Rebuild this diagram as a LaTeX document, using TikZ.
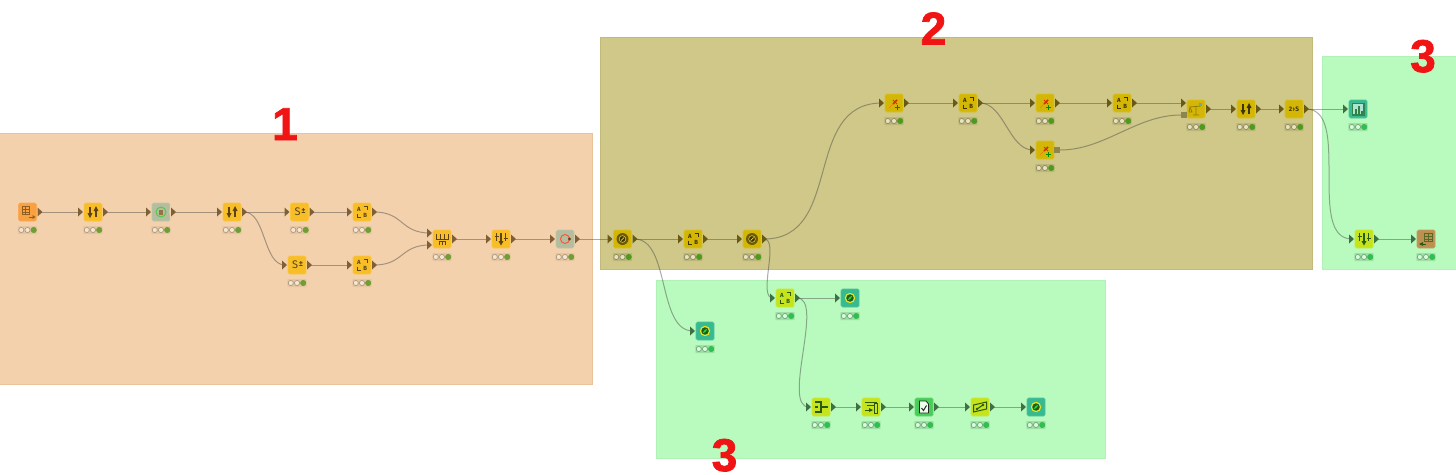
\documentclass[tikz,border=0pt]{standalone}
\usepackage{fontspec}
\setmainfont{Fira Sans}
\newfontfamily\numfont[BoldFeatures={FakeBold=1.6}]{Liberation Sans}
\usetikzlibrary{calc}
\definecolor{regionA}{HTML}{F3D1AC}\definecolor{regionB}{HTML}{CFC889}\definecolor{regionC}{HTML}{B9FBBE}
\definecolor{edgeA}{HTML}{E8C498}\definecolor{edgeB}{HTML}{C2BA78}\definecolor{edgeC}{HTML}{B0F2B6}
\definecolor{portA}{HTML}{7F5F35}\definecolor{portB}{HTML}{685A14}\definecolor{portC}{HTML}{3E7044}
\definecolor{boxA}{HTML}{E6C5A0}\definecolor{boxB}{HTML}{BDB67A}\definecolor{boxC}{HTML}{A0E0A6}
\definecolor{ringA}{HTML}{AC9B7C}\definecolor{ringB}{HTML}{8F8A5C}\definecolor{ringC}{HTML}{70A878}
\definecolor{holeA}{HTML}{F6E6D2}\definecolor{holeB}{HTML}{E8E2C0}\definecolor{holeC}{HTML}{D8FCDC}
\definecolor{okA}{HTML}{6E9E34}\definecolor{okB}{HTML}{4E9A1E}\definecolor{okC}{HTML}{30BE50}
\definecolor{inkA}{HTML}{5E4318}\definecolor{inkB}{HTML}{3E3400}\definecolor{inkC}{HTML}{2A5A12}
\definecolor{yelA}{HTML}{F8BE28}\definecolor{yelB}{HTML}{D4B706}\definecolor{lime}{HTML}{C5E41C}
\definecolor{orng}{HTML}{F9A040}\definecolor{sage}{HTML}{B4BE9E}\definecolor{teal}{HTML}{38BA90}
\definecolor{grn}{HTML}{48CE58}\definecolor{brwn}{HTML}{BC9050}\definecolor{redtxt}{HTML}{F01414}
\pgfdeclarelayer{regions}\pgfdeclarelayer{wires}
\pgfsetlayers{regions,wires,main}
\tikzset{
  x=1pt,y=-1pt,
  knimenode/.style={minimum size=18pt,inner sep=0pt,rounded corners=1.5pt,line width=.7pt},
  wire/.style={draw=black!75,opacity=.44,line width=1pt},
  bignum/.style={anchor=base,text=redtxt,font=\numfont\fontsize{46}{46}\bfseries\selectfont,inner sep=0pt},
  region/.style={line width=.8pt},
  tiny/.style={inner sep=0pt,font=\fontsize{6}{6}\bfseries\selectfont}
}
% icons
\newcommand{\icSort}[1]{\draw[#1,line width=1.3pt](-3,-5)--(-3,2);\fill[#1](-5.5,1)--(-.5,1)--(-3,6)--cycle;
  \draw[#1,line width=1.3pt](3,5)--(3,-2);\fill[#1](.5,-1)--(5.5,-1)--(3,-6)--cycle;}
\newcommand{\icS}[1]{\node[text=#1,inner sep=0pt,font=\fontsize{11}{11}\selectfont] at (-2,0){S};\node[text=#1,tiny,font=\fontsize{8}{8}\bfseries\selectfont] at (4,-1){±};}
\newcommand{\icAB}[1]{\node[text=#1,tiny] at (-3,-3){A};\node[text=#1,tiny] at (3.2,3.5){B};
  \draw[#1,line width=.9pt](1.5,-5.5)--(5,-5.5)--(5,-2);\draw[#1,line width=.9pt](-5,1.5)--(-5,5.5)--(-1.5,5.5);}
\newcommand{\icJoin}[1]{\draw[#1,line width=1pt](-6,-5)--(-6,0)--(6,0)--(6,-5)(-2,-5)--(-2,0)(2,-5)--(2,0);
  \draw[#1,line width=1pt](-3,6)--(-3,2.5)--(3,2.5)--(3,6)(0,2.5)--(0,6);}
\newcommand{\icFilter}[1]{\draw[#1,line width=.9pt](-4.5,-6)--(-4.5,2)(4.5,-6)--(4.5,2)(-6.5,-3)--(-2.5,-3)(2.5,-1)--(6.5,-1);
  \draw[#1,line width=1.2pt](0,-6)--(0,3);\fill[#1](-2.5,2)--(2.5,2)--(0,6.5)--cycle;}
\newcommand{\icLoop}[1]{\draw[color=red!70!orange!80,line width=.9pt](0,0) circle (4.5);\fill[#1](4.5,0) circle (1.6);}
\newcommand{\icDisc}[1]{\fill[#1!70!yelB](0,0) circle (6);\draw[yelB!70!white,line width=.5pt](0,0) circle (3.4);\fill[#1](0,0) circle (2.6);\draw[yelB!60!white,line width=.7pt](-1.5,1.5)--(1.5,-1.5);}
\newcommand{\icView}[1]{\draw[yellow!60!lime,line width=1.1pt](0,0) circle (4.6);\fill[#1](0,0) circle (3.6);\fill[green!50!teal,rotate=45](0,0) ellipse (2.6 and .8);}
\newcommand{\icPin}[1]{\draw[red!60!orange!85!black,line width=1.5pt](-1,1)--(3,-3);\draw[red!60!orange!85!black,line width=.9pt](-1,-3)--(3,1);\draw[orange!70!brown,line width=.6pt](-1,1)--(-5,5);
  \draw[green!55!black,line width=1.1pt](1,4.5)--(6,4.5)(3.5,2)--(3.5,7);}
\newcommand{\icScale}[1]{\draw[#1!45!yelB,line width=.8pt](-6,-2)--(5,-3)(0,-3)--(0,6)(-3,6)--(3,6);\fill[cyan!50!gray](2.5,-6) rectangle (6,-3);\draw[#1!45!yelB,line width=.7pt](-6,-2)--(-7,3)--(-4,3)--cycle;}
\newcommand{\icTwoS}[1]{\node[text=#1,tiny,font=\fontsize{6.5}{6.5}\bfseries\selectfont] at (0,0){2\hspace{.4pt}›\hspace{.4pt}S};}
\newcommand{\icTable}[1]{\draw[#1,line width=.7pt](-5,-6) rectangle (2,2)(-5,-3)--(2,-3)(-5,0)--(2,0)(-2,-6)--(-2,2);\draw[#1,line width=1pt](1,5)--(6,5);\fill[#1](5,3)--(5,7)--(8,5)--cycle;}
\newcommand{\icTableB}[1]{\draw[#1!70!brwn,line width=.7pt](-2,-6) rectangle (6,2)(-2,-3)--(6,-3)(-2,0)--(6,0)(2,-6)--(2,2);\draw[#1,line width=1pt](-6,5)--(0,5);\fill[#1](-3,3)--(-3,7)--(-7,5)--cycle;}
\newcommand{\icCut}[1]{\draw[#1,line width=1.6pt](-6,-5)--(0,-5)--(0,5)--(-6,5);\draw[#1,line width=1.6pt](0,0)--(6.5,0);\draw[#1,line width=1.6pt](-6,0)--(-3,0);}
\newcommand{\icReport}[1]{\draw[#1,line width=1pt](-6,-5)--(6,-5);\draw[#1,line width=.8pt](3,-4) rectangle (6,6);\draw[#1,line width=.8pt](-4,-2)--(3,-2);\draw[#1,line width=1pt](-6,3)--(1,3);\fill[#1](-2,1)--(-2,5)--(2,3)--cycle;}
\newcommand{\icDoc}[1]{\fill[white!92!green](-4.5,-6)--(2,-6)--(4.5,-3)--(4.5,6)--(-4.5,6)--cycle;\draw[black!85,line width=.8pt](-4.5,-6)--(2,-6)--(4.5,-3)--(4.5,6)--(-4.5,6)--cycle;\draw[black!85,line width=1pt](-2.5,1)--(-.5,3.5)--(2.5,-1.5);}
\newcommand{\icDia}[1]{\draw[#1,line width=1pt](-6.5,-2)--(6.5,-5)--(6.5,2)--(-6.5,5)--cycle;\draw[#1,line width=1pt](-3,2)--(3,-2);\fill[#1](-3,2) circle (1.3);\fill[#1](3,-2) circle (1.3);}
\newcommand{\icBars}[1]{\fill[#1!55!teal](-6.5,-6.5) rectangle (6.5,6.5);\fill[teal!40!white](-5,-5) rectangle (5,5);\fill[#1!60!teal](-3.5,5) rectangle (-1.5,0);\fill[#1!60!teal](-.5,5) rectangle (1.5,-3);\fill[#1!60!teal](2.5,5) rectangle (4.5,2);}
% node: name x y fill region-letter icon
\newcommand{\knode}[6]{%
  \node[knimenode,fill=#4,draw=#4!88!white] (#1) at (#2,#3) {};
  \begin{scope}[shift={(#2,#3)}]
    #6
    \fill[box#5,rounded corners=.8pt](-9.7,14)rectangle(9.7,22);
    \foreach \cx in {-6.2,0}{\filldraw[fill=hole#5,draw=ring#5,line width=.7pt](\cx,18) circle (2.6);}
    \filldraw[fill=ok#5,draw=ok#5,line width=.6pt](6.2,18) circle (2.7);
  \end{scope}}
\newcommand{\pin}[4]{\coordinate (#1) at (#2-12,#3);\fill[port#4](#2-15,#3-4.5)--(#2-15,#3+4.5)--(#2-10,#3)--cycle;}
\newcommand{\pout}[4]{\coordinate (#1) at (#2+12,#3);\fill[port#4](#2+10,#3-4.5)--(#2+10,#3+4.5)--(#2+15,#3)--cycle;}
\newcommand{\nIO}[6]{\knode{#1}{#2}{#3}{#4}{#5}{#6}\pin{#1-in}{#2}{#3}{#5}\pout{#1-out}{#2}{#3}{#5}}
\newcommand{\nI}[6]{\knode{#1}{#2}{#3}{#4}{#5}{#6}\pin{#1-in}{#2}{#3}{#5}}
\newcommand{\wire}[3]{\begin{pgfonlayer}{wires}\draw[wire](#1) .. controls +(#3,0) and +(-#3,0) .. (#2);\end{pgfonlayer}}
\newcommand{\straight}[2]{\begin{pgfonlayer}{wires}\draw[wire](#1)--(#2);\end{pgfonlayer}}
\begin{document}
\begin{tikzpicture}
\useasboundingbox (0,0) rectangle (1456,474);
\begin{pgfonlayer}{regions}
\fill[white](0,0) rectangle (1456,474);
\filldraw[fill=regionA,draw=edgeA,region](-2,133.5) rectangle (592.5,384.5);
\filldraw[fill=regionB,draw=edgeB,region](600.5,37.5) rectangle (1312.5,269.5);
\filldraw[fill=regionC,draw=edgeC,region](656.5,280) rectangle (1105.5,458.5);
\filldraw[fill=regionC,draw=edgeC,region](1322.5,56.5) rectangle (1458,269.5);
\end{pgfonlayer}
\node[bignum] (lab1) at (285,140) {1};
\node[bignum] (lab2) at (933.5,44.5) {2};
\node[bignum] (lab3a) at (1423,72) {3};
\node[bignum] (lab3b) at (724.5,471) {3};
% region 1
\knode{n1}{27.5}{212}{orng}{A}{\icTable{inkA!70!orng}}\pout{n1-out}{27.5}{212}{A}
\nIO{n2}{93}{212}{yelA}{A}{\icSort{inkA}}
\knode{n3}{161}{212}{sage}{A}{\fill[regionA](10,-10)--(10,10)--(8.3,0)--cycle;
  \draw[green!50!sage!90!black,line width=.9pt](0,0) circle (5);\fill[brwn!80!black](-2.4,-2.5) rectangle (2.4,2.5);}
\pin{n3-in}{161}{212}{A}\pout{n3-out}{161}{212}{A}
\nIO{n4}{232}{212}{yelA}{A}{\icSort{inkA}}
\nIO{n5}{299.5}{212}{yelA}{A}{\icS{inkA}}
\nIO{n6}{362}{212}{yelA}{A}{\icAB{inkA}}
\nIO{n7}{297}{265}{yelA}{A}{\icS{inkA}}
\nIO{n8}{362}{265}{yelA}{A}{\icAB{inkA}}
\knode{n9}{442}{239}{yelA}{A}{\icJoin{inkA}}
\pin{n9-ina}{442}{233}{A}\pin{n9-inb}{442}{245}{A}\pout{n9-out}{442}{239}{A}
\nIO{n10}{501}{239}{yelA}{A}{\icFilter{inkA}}
\knode{n11}{565}{239}{sage}{A}{\fill[regionA](-10,-10)--(-7,-10)--(-10,-7)--cycle (10,-10)--(7,-10)--(10,-7)--cycle (-10,10)--(-7,10)--(-10,7)--cycle (10,10)--(7,10)--(10,7)--cycle;\icLoop{inkA}}
\pin{n11-in}{565}{239}{A}\pout{n11-out}{565}{239}{A}
% region 2
\nIO{n12}{622.5}{239}{yelB}{B}{\icDisc{inkB}}
\nIO{n13}{693}{239}{yelB}{B}{\icAB{inkB}}
\nIO{n14}{752}{239}{yelB}{B}{\icDisc{inkB}}
\nIO{n15}{894}{103}{yelB}{B}{\icPin{inkB}}
\nIO{n16}{968}{103}{yelB}{B}{\icAB{inkB}}
\nIO{n17}{1045}{103}{yelB}{B}{\icPin{inkB}}
\nIO{n18}{1122}{103}{yelB}{B}{\icAB{inkB}}
\knode{n19}{1045}{150}{yelB}{B}{\icPin{inkB}}\pin{n19-in}{1045}{150}{B}
\fill[boxB!70!black!90!yelB] (1054,147) rectangle (1060,153);\coordinate (n19-out) at (1060,150);
\knode{n20}{1196}{109}{yelB}{B}{\icScale{inkB}}\pin{n20-ina}{1196}{103}{B}
\fill[boxB!70!black!90!yelB] (1181,112) rectangle (1187,118);\coordinate (n20-inb) at (1181,115);\pout{n20-out}{1196}{109}{B}
\nIO{n21}{1246}{109}{yelB}{B}{\icSort{inkB}}
\nIO{n22}{1294}{109}{yelB}{B}{\icTwoS{inkB}}
% region 3 right
\knode{n23}{1358}{109}{teal}{C}{\icBars{inkC}}\pin{n23-in}{1358}{109}{C}
\nIO{n24}{1364}{239}{lime}{C}{\icFilter{inkC}}
\knode{n25}{1426}{239}{brwn}{C}{\icTableB{inkC}}\pin{n25-in}{1426}{239}{C}
% region 3 bottom
\nIO{n26}{785}{298}{lime}{C}{\icAB{inkC}}
\nI{n27}{850}{298}{teal}{C}{\icView{inkC}}
\nI{n28}{705}{331}{teal}{C}{\icView{inkC}}
\nIO{n29}{821}{407}{lime}{C}{\icCut{inkC}}
\nIO{n30}{871}{407}{lime}{C}{\icReport{inkC}}
\nIO{n31}{924}{407}{grn}{C}{\icDoc{inkC}}
\nIO{n32}{980}{407}{lime}{C}{\icDia{inkC}}
\nI{n33}{1036}{407}{teal}{C}{\icView{inkC}}
% connectors
\straight{n1-out}{n2-in}\straight{n2-out}{n3-in}\straight{n3-out}{n4-in}\straight{n4-out}{n5-in}
\wire{n4-out}{n7-in}{22}
\straight{n5-out}{n6-in}\straight{n7-out}{n8-in}
\wire{n6-out}{n9-ina}{30}\wire{n8-out}{n9-inb}{30}
\straight{n9-out}{n10-in}\straight{n10-out}{n11-in}\straight{n11-out}{n12-in}\straight{n12-out}{n13-in}\straight{n13-out}{n14-in}
\wire{n12-out}{n28-in}{36}
\wire{n14-out}{n15-in}{80}
\wire{n14-out}{n26-in}{16}
\straight{n15-out}{n16-in}\straight{n16-out}{n17-in}\straight{n17-out}{n18-in}
\wire{n16-out}{n19-in}{24}
\straight{n18-out}{n20-ina}
\wire{n19-out}{n20-inb}{45}
\straight{n20-out}{n21-in}\straight{n21-out}{n22-in}
\straight{n22-out}{n23-in}
\wire{n22-out}{n24-in}{46}
\straight{n24-out}{n25-in}
\straight{n26-out}{n27-in}
\wire{n26-out}{n29-in}{28}
\straight{n29-out}{n30-in}\straight{n30-out}{n31-in}\straight{n31-out}{n32-in}\straight{n32-out}{n33-in}
\end{tikzpicture}
\end{document}
